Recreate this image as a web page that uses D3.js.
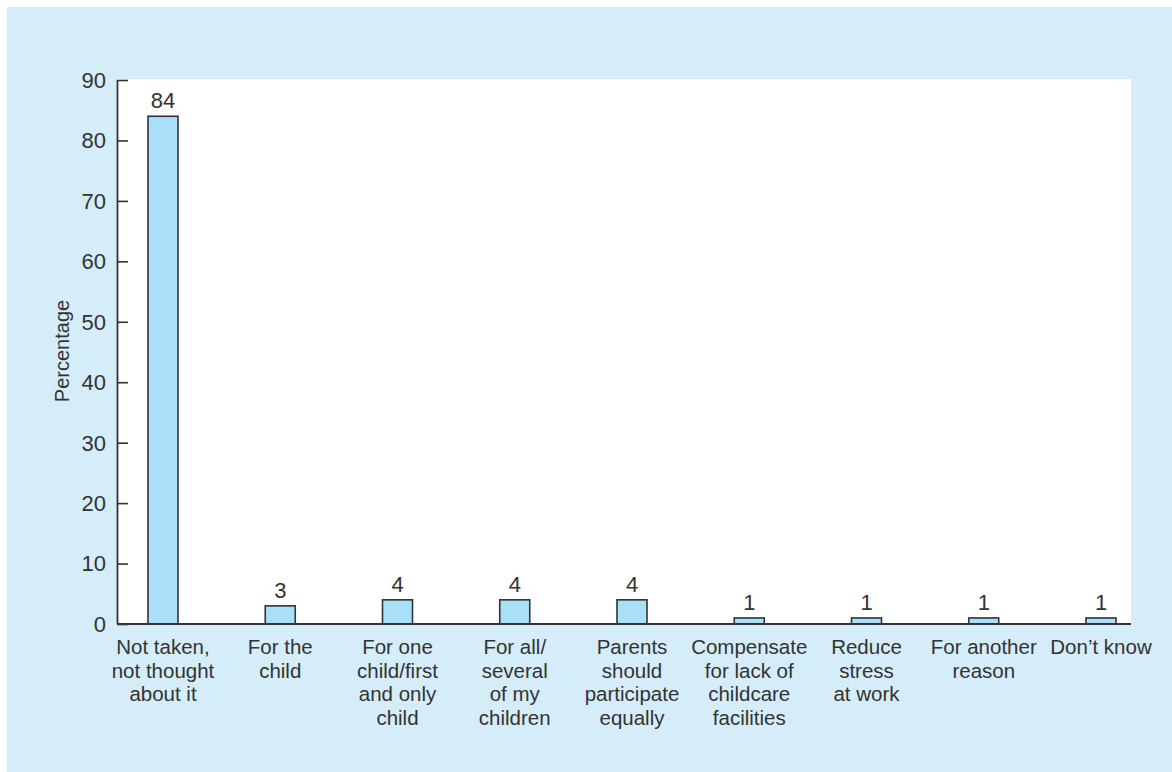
<!DOCTYPE html>
<html>
<head>
<meta charset="utf-8">
<script src="https://cdn.jsdelivr.net/npm/d3@7"></script>
<style>
  html, body { margin: 0; padding: 0; background: #ffffff; }
  svg { display: block; }
  text { font-family: "Liberation Sans", Arial, sans-serif; fill: #333333; }
</style>
</head>
<body>
<svg id="chart" width="1172" height="772"></svg>
<script>
// Reasons given for taking parental leave (per cent of respondents)
const categories = [
  ["Not taken,", "not thought", "about it"],
  ["For the", "child"],
  ["For one", "child/first", "and only", "child"],
  ["For all/", "several", "of my", "children"],
  ["Parents", "should", "participate", "equally"],
  ["Compensate", "for lack of", "childcare", "facilities"],
  ["Reduce", "stress", "at work"],
  ["For another", "reason"],
  ["Don\u2019t know"]
];
const values = [84, 3, 4, 4, 4, 1, 1, 1, 1];
const yTicks = [0, 10, 20, 30, 40, 50, 60, 70, 80, 90];
const yTitle = "Percentage";

const svg = d3.select("#chart");

// Background panel
svg.append("rect")
  .attr("x", 7).attr("y", 7)
  .attr("width", 1165).attr("height", 765)
  .attr("fill", "#d5ecf9");

const plot = { left: 117, right: 1131, top: 79, bottom: 624 };

// White plotting area
svg.append("rect")
  .attr("x", plot.left).attr("y", plot.top)
  .attr("width", plot.right - plot.left).attr("height", plot.bottom - plot.top)
  .attr("fill", "#ffffff");

const idx = d3.range(categories.length);
const x = d3.scalePoint().domain(idx).range([163, 1101]);
const y = d3.scaleLinear().domain([0, 90]).range([plot.bottom, 80]);
const barW = 30;

// Bars
svg.append("g").selectAll("rect")
  .data(values)
  .join("rect")
  .attr("x", (d, i) => x(i) - barW / 2)
  .attr("y", d => y(d))
  .attr("width", barW)
  .attr("height", d => y(0) - y(d))
  .attr("fill", "#aadff9")
  .attr("stroke", "#333333")
  .attr("stroke-width", 1.6);

// Value labels
svg.append("g").selectAll("text")
  .data(values)
  .join("text")
  .attr("x", (d, i) => x(i))
  .attr("y", d => y(d) - 8)
  .attr("text-anchor", "middle")
  .attr("font-size", 22)
  .text(d => d);

// Y axis with inward ticks
const yAxis = d3.axisRight(y).tickValues(yTicks).tickSize(11).tickFormat("");
const gy = svg.append("g").attr("transform", `translate(${plot.left},0)`).call(yAxis);
gy.select(".domain").attr("stroke", "#333333").attr("stroke-width", 1.8)
  .attr("d", `M0.5,${y(90)}V${y(0)}`);
gy.selectAll(".tick line").attr("stroke", "#333333").attr("stroke-width", 1.6);

svg.append("g").selectAll("text")
  .data(yTicks)
  .join("text")
  .attr("x", 106)
  .attr("y", d => y(d))
  .attr("dy", "0.36em")
  .attr("text-anchor", "end")
  .attr("font-size", 22)
  .text(d => d);

// Baseline
svg.append("line")
  .attr("x1", plot.left).attr("x2", plot.right)
  .attr("y1", y(0)).attr("y2", y(0))
  .attr("stroke", "#333333").attr("stroke-width", 2);

// Category labels
const lab = svg.append("g").selectAll("text")
  .data(categories)
  .join("text")
  .attr("text-anchor", "middle")
  .attr("font-size", 20.5);
lab.each(function(lines, i) {
  d3.select(this).selectAll("tspan")
    .data(lines)
    .join("tspan")
    .attr("x", x(i))
    .attr("y", (l, j) => 654 + j * 23.7)
    .text(l => l);
});

// Y axis title
svg.append("text")
  .attr("transform", "translate(69,351) rotate(-90)")
  .attr("text-anchor", "middle")
  .attr("font-size", 20)
  .text(yTitle);
</script>
</body>
</html>
